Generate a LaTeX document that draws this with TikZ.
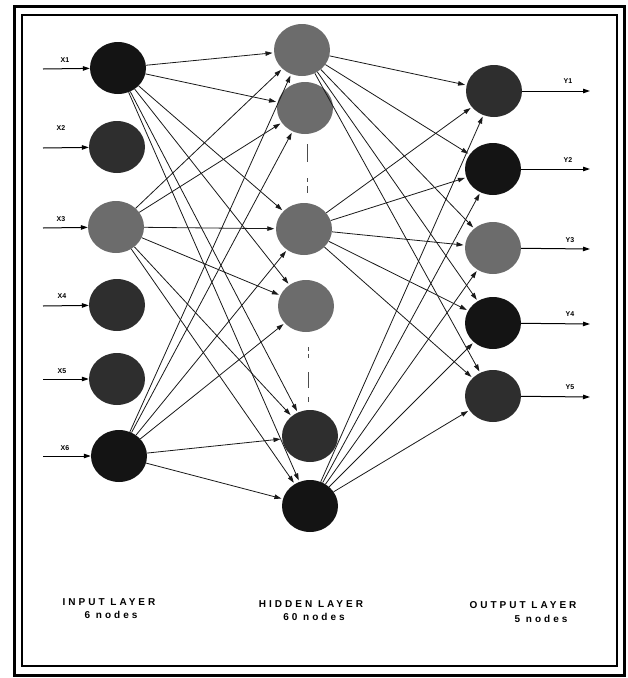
\documentclass[tikz,border=0pt]{standalone}
\usepackage{fontspec}
\setmainfont{Liberation Sans}
\usetikzlibrary{arrows.meta,shapes.geometric}
\definecolor{nblack}{HTML}{141414}
\definecolor{ndark}{HTML}{2E2E2E}
\definecolor{ngrey}{HTML}{6C6C6C}
\begin{document}
\begin{tikzpicture}[x=1pt,y=-1pt,
  neuron/.style={ellipse,minimum width=56pt,minimum height=52pt,inner sep=0pt,draw=none},
  nb/.style={neuron,fill=nblack},
  nd/.style={neuron,fill=ndark},
  ng/.style={neuron,fill=ngrey},
  link/.style={-{Triangle[length=7pt,width=4.5pt]},line width=0.8pt,draw=black!90,shorten >=1.5pt},
  iolink/.style={-{Triangle[length=7pt,width=4.5pt]},line width=1pt},
  lbl/.style={font=\bfseries\fontsize{7}{8}\selectfont,inner sep=0pt},
  captxt/.style={font=\bfseries\fontsize{10}{12}\selectfont\addfontfeatures{LetterSpace=30},inner sep=0pt},
  gapline/.style={line width=1pt,draw=black!70}]
\useasboundingbox (0,0) rectangle (628,678);
% frame
\draw[line width=3pt] (14,6) rectangle (624,675);
\draw[line width=1.4pt] (22,15) rectangle (617,666);
% input layer
\node[nb] (X1) at (118,68) {};
\node[nd] (X2) at (117,147) {};
\node[ng] (X3) at (116,227) {};
\node[nd] (X4) at (117,305) {};
\node[nd] (X5) at (117,379) {};
\node[nb] (X6) at (119,456) {};
% hidden layer
\node[ng] (H1) at (302,50) {};
\node[ng] (H2) at (305,108) {};
\node[ng] (H3) at (304,229) {};
\node[ng] (H4) at (306,306) {};
\node[nd] (H5) at (310,436) {};
\node[nb] (H6) at (310,506) {};
% output layer
\node[nd] (Y1) at (494,91) {};
\node[nb] (Y2) at (493,169) {};
\node[ng] (Y3) at (493,248) {};
\node[nb] (Y4) at (493,323) {};
\node[nd] (Y5) at (493,396) {};
% gaps in hidden layer
\draw[gapline] (307,144) -- (307,162);
\draw[gapline] (307,178) -- (307,182);
\draw[gapline] (307,186) -- (307,193);
\draw[gapline] (308,347) -- (308,351);
\draw[gapline] (308,354) -- (308,358);
\draw[gapline] (308,372) -- (308,388);
\draw[gapline] (308,397) -- (308,402);
% input to hidden
\foreach \i in {X1,X3,X6}
  \foreach \h in {H1,H2,H3,H4,H5,H6}
    \draw[link] (\i) -- (\h);
% hidden to output
\foreach \h in {H1,H3,H6}
  \foreach \o in {Y1,Y2,Y3,Y4,Y5}
    \draw[link] (\h) -- (\o);
% input arrows
\foreach \n/\y/\lx/\ly/\t in {X1/69/65/60/X1,X2/148/61/128/X2,X3/228/61/219/X3,X4/306/62/296/X4,X5/379/62/371/X5,X6/456/65/448/X6}{
  \coordinate (in\n) at (43,\y);
  \draw[iolink] (in\n) -- (\n);
  \node[lbl] (l\n) at (\lx,\ly) {\t};
}
% output arrows
\foreach \n/\y/\lx/\ly/\t in {Y1/91/568/81/Y1,Y2/169/568/160/Y2,Y3/249/570/240/Y3,Y4/324/570/314/Y4,Y5/397/570/387/Y5}{
  \coordinate (out\n) at (590,\y);
  \draw[iolink] (\n) -- (out\n);
  \node[lbl] (l\n) at (\lx,\ly) {\t};
}
% captions
\node[captxt] (c1a) at (109,602) {INPUT LAYER};
\node[captxt] (c1b) at (111,615) {6 nodes};
\node[captxt] (c2a) at (311,604) {HIDDEN LAYER};
\node[captxt] (c2b) at (314,617) {60 nodes};
\node[captxt] (c3a) at (523,605) {OUTPUT LAYER};
\node[captxt] (c3b) at (541,619) {5 nodes};
\end{tikzpicture}
\end{document}
